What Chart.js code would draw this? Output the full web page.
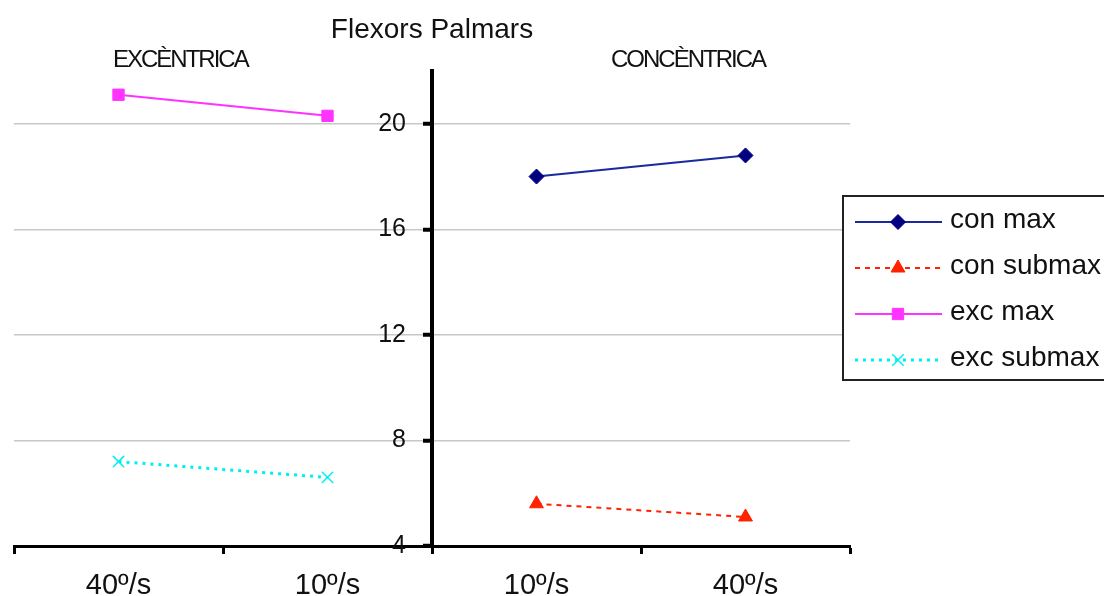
<!DOCTYPE html>
<html><head><meta charset="utf-8">
<script src="https://cdn.jsdelivr.net/npm/chart.js@4/dist/chart.umd.min.js"></script>
<style>html,body{margin:0;padding:0;background:#fff}#wrap{width:1104px;height:596px;position:relative}</style>
</head><body><div id="wrap"><canvas id="c"></canvas></div>
<script>
const categories = ['40º/s', '10º/s', '10º/s', '40º/s'];
const seriesNames = ['con max', 'con submax', 'exc max', 'exc submax'];
const conMax = [null, null, 18.0, 18.8];
const conSubmax = [null, null, 5.6, 5.1];
const excMax = [21.1, 20.3, null, null];
const excSubmax = [7.2, 6.6, null, null];
const yTicks = [4, 8, 12, 16, 20];
const yMin = 4, yMax = 22;
const chartTitle = 'Flexors Palmars';
const groupLabels = ['EXCÈNTRICA', 'CONCÈNTRICA'];

const FONT = '"Liberation Sans", Arial, sans-serif';

function spacedText(ctx, text, x, y, spacing) {
  let cx = x;
  for (const ch of text) {
    ctx.fillText(ch, cx, y);
    cx += ctx.measureText(ch).width + spacing;
  }
}

function drawMarker(ctx, style, x, y, r, color, lw) {
  ctx.save();
  ctx.fillStyle = color; ctx.strokeStyle = color; ctx.lineWidth = lw || 1;
  ctx.setLineDash([]);
  ctx.beginPath();
  if (style === 'rectRot') {
    ctx.moveTo(x, y - r); ctx.lineTo(x + r, y); ctx.lineTo(x, y + r); ctx.lineTo(x - r, y); ctx.closePath();
    ctx.fill(); ctx.stroke();
  } else if (style === 'triangle') {
    const s = Math.sin(Math.PI / 3) * r;
    ctx.moveTo(x, y - r); ctx.lineTo(x + s, y + r / 2); ctx.lineTo(x - s, y + r / 2); ctx.closePath();
    ctx.fill(); ctx.stroke();
  } else if (style === 'rect') {
    const s = Math.SQRT1_2 * r;
    ctx.rect(x - s, y - s, 2 * s, 2 * s); ctx.fill(); ctx.stroke();
  } else if (style === 'crossRot') {
    const s = Math.SQRT1_2 * r;
    ctx.moveTo(x - s, y - s); ctx.lineTo(x + s, y + s);
    ctx.moveTo(x + s, y - s); ctx.lineTo(x - s, y + s);
    ctx.stroke();
  }
  ctx.restore();
}

const decor = {
  id: 'decor',
  afterDraw(chart) {
    const ctx = chart.ctx;
    const ca = chart.chartArea;
    const ys = chart.scales.y;
    const axisX = chart.scales.x.getPixelForValue(1.5);
    ctx.save();
    ctx.fillStyle = '#111';
    // y tick labels, left of the centred axis
    ctx.font = '25px ' + FONT;
    ctx.textAlign = 'right';
    ctx.textBaseline = 'middle';
    yTicks.forEach(v => ctx.fillText(String(v), axisX - 26, ys.getPixelForValue(v)));

    ctx.textBaseline = 'alphabetic';
    ctx.font = '28px ' + FONT;
    ctx.textAlign = 'center';
    ctx.fillText(chartTitle, (ca.left + ca.right) / 2, 38);
    ctx.textAlign = 'left';
    ctx.font = '24px ' + FONT;
    spacedText(ctx, groupLabels[0], 113, 67, -2);
    spacedText(ctx, groupLabels[1], 611, 67, -2);

    // legend
    const bx = 843, by = 196, bw = 300, bh = 184;
    ctx.fillStyle = '#fff';
    ctx.fillRect(bx, by, bw, bh);
    ctx.strokeStyle = '#222'; ctx.lineWidth = 2;
    ctx.strokeRect(bx, by, bw, bh);
    chart.data.datasets.forEach((ds, i) => {
      const ly = 222 + i * 46;
      ctx.save();
      ctx.strokeStyle = ds.borderColor;
      ctx.lineWidth = ds.borderWidth;
      ctx.setLineDash(ds.borderDash || []);
      ctx.beginPath(); ctx.moveTo(855, ly); ctx.lineTo(942, ly); ctx.stroke();
      ctx.restore();
      drawMarker(ctx, ds.pointStyle, 898, ly, ds.pointRadius, ds.pointBackgroundColor, ds.pointBorderWidth);
      ctx.fillStyle = '#111';
      ctx.font = '28px ' + FONT;
      ctx.textAlign = 'left';
      ctx.fillText(ds.label, 950, ly + 6);
    });
    ctx.restore();
  }
};

new Chart(document.getElementById('c'), {
  type: 'line',
  data: {
    labels: categories,
    datasets: [
      { label: seriesNames[0], data: conMax, borderColor: '#1a2a9c', borderWidth: 2,
        pointStyle: 'rectRot', pointRadius: 7.5, pointBackgroundColor: '#000080', pointBorderColor: '#000080', pointBorderWidth: 1 },
      { label: seriesNames[1], data: conSubmax, borderColor: '#ff2200', borderWidth: 2, borderDash: [5, 5],
        pointStyle: 'triangle', pointRadius: 8, pointBackgroundColor: '#ff2200', pointBorderColor: '#ff2200', pointBorderWidth: 1 },
      { label: seriesNames[2], data: excMax, borderColor: '#ff33ff', borderWidth: 2,
        pointStyle: 'rect', pointRadius: 8, pointBackgroundColor: '#ff33ff', pointBorderColor: '#ff33ff', pointBorderWidth: 1 },
      { label: seriesNames[3], data: excSubmax, borderColor: '#00f0f0', borderWidth: 3, borderDash: [3, 5],
        pointStyle: 'crossRot', pointRadius: 8, pointBackgroundColor: '#00f0f0', pointBorderColor: '#00f0f0', pointBorderWidth: 1.5 }
    ]
  },
  options: {
    responsive: true,
    maintainAspectRatio: false,
    animation: false,
    layout: { padding: { left: 14, right: 254, top: 71, bottom: -21 } },
    plugins: { legend: { display: false }, title: { display: false }, tooltip: { enabled: false } },
    elements: { line: { tension: 0 } },
    scales: {
      x: {
        type: 'category',
        offset: true,
        grid: { offset: true, drawOnChartArea: false, drawTicks: true, tickLength: 8, tickColor: '#000', tickWidth: 3 },
        border: { display: true, color: '#000', width: 3 },
        ticks: { color: '#111', font: { family: FONT, size: 29, lineHeight: 1.0 }, padding: 17, maxRotation: 0, autoSkip: false }
      },
      y: {
        type: 'linear',
        position: { x: 1.5 },
        min: yMin, max: yMax,
        afterBuildTicks(scale) { scale.ticks = yTicks.map(v => ({ value: v })); },
        grid: { color: '#c8c8c8', lineWidth: 1.5, drawTicks: true, tickLength: 7, tickColor: '#000', tickWidth: 4 },
        border: { display: true, color: '#000', width: 4 },
        ticks: { display: false }
      }
    }
  },
  plugins: [decor]
});
</script>
</body></html>
